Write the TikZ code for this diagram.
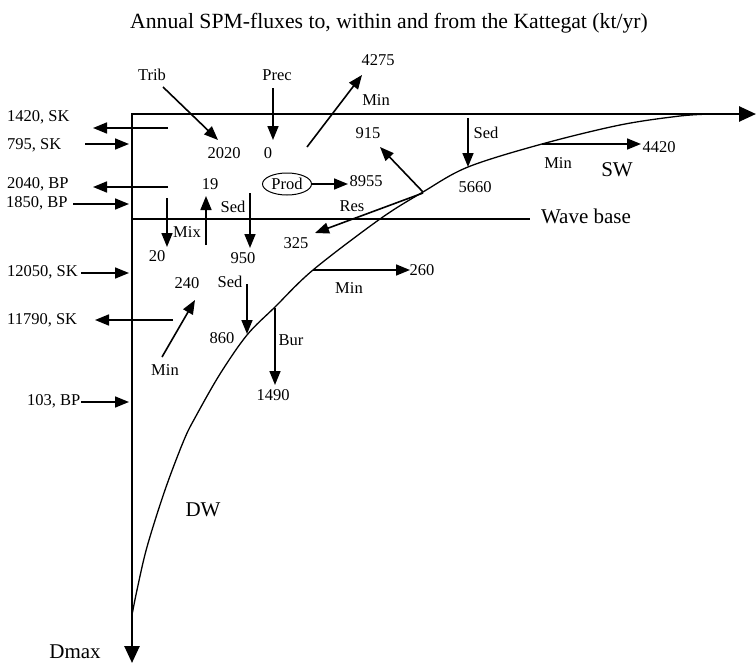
\documentclass[tikz,border=0pt]{standalone}
\usepackage{fontspec}
\setmainfont{Liberation Serif}
\usetikzlibrary{arrows.meta,shapes.geometric}
\tikzset{
  lbl/.style={inner sep=0pt, font=\fontsize{16.5}{18}\selectfont},
  lft/.style={lbl, anchor=west},
  big/.style={inner sep=0pt, font=\fontsize{21}{24}\selectfont},
  ttl/.style={inner sep=0pt, font=\fontsize{21.7}{24}\selectfont},
  flux/.style={line width=1.6pt, -{Triangle[length=14pt,width=11pt]}},
  axisline/.style={line width=2.6pt, {Triangle[length=17pt,width=15pt]}-{Triangle[length=17pt,width=15pt]}},
  thinline/.style={line width=1.3pt},
}
\begin{document}
\begin{tikzpicture}[x=1pt,y=-1pt]
\useasboundingbox (0,0) rectangle (756,664);
% title
\node[ttl, anchor=base] (title) at (389,28) {Annual SPM-fluxes to, within and from the Kattegat (kt/yr)};
% axes
\coordinate (o) at (132,114);
\coordinate (yend) at (132,663);
\coordinate (xend) at (756,114);
\draw[axisline] (yend) -- (o) -- (xend);
% wave base
\coordinate (wb0) at (132,219);
\coordinate (wb1) at (530,219);
\draw[thinline] (wb0) -- (wb1);
\node[big] (wavebase) at (586,216) {Wave base};
% curve
\draw[thinline] plot[smooth, tension=0.55] coordinates {(132,615) (137,590) (147,547) (165,490) (184,440) (196,416) (220,374) (247,335) (275,307) (313,270) (380,219) (423,192) (468,167) (542,144) (620,125) (680,116) (712,114)};
% region labels
\node[big] (sw) at (617,170) {SW};
\node[big] (dw) at (203,510) {DW};
\node[big] (dmax) at (75,652) {Dmax};
% left boundary fluxes
\node[lft] (l1420) at (7,117) {1420, SK};
\node[lft] (l795) at (7,145) {795, SK};
\node[lft] (l2040) at (7,184) {2040, BP};
\node[lft] (l1850) at (6,203) {1850, BP};
\node[lft] (l12050) at (7,272) {12050, SK};
\node[lft] (l11790) at (7,320) {11790, SK};
\node[lft] (l103) at (27,401) {103, BP};
\coordinate (a1420s) at (168,128); \coordinate (a1420e) at (93,128);
\coordinate (a795s) at (85,144); \coordinate (a795e) at (129,144);
\coordinate (a2040s) at (168,187); \coordinate (a2040e) at (93,187);
\coordinate (a1850s) at (73,204); \coordinate (a1850e) at (129,204);
\coordinate (a12050s) at (81,273); \coordinate (a12050e) at (129,273);
\coordinate (a11790s) at (173,320); \coordinate (a11790e) at (95,320);
\coordinate (a103s) at (81,402); \coordinate (a103e) at (129,402);
\draw[flux] (a1420s) -- (a1420e);
\draw[flux] (a795s) -- (a795e);
\draw[flux] (a2040s) -- (a2040e);
\draw[flux] (a1850s) -- (a1850e);
\draw[flux] (a12050s) -- (a12050e);
\draw[flux] (a11790s) -- (a11790e);
\draw[flux] (a103s) -- (a103e);
% surface layer
\node[lbl] (trib) at (152,75) {Trib};
\node[lbl] (n2020) at (224,153) {2020};
\coordinate (tribs) at (163,87); \coordinate (tribe) at (218,140);
\draw[flux] (tribs) -- (tribe);
\node[lbl] (prec) at (277,75) {Prec};
\node[lbl] (n0) at (268,153) {0};
\coordinate (precs) at (273,88); \coordinate (prece) at (273,140);
\draw[flux] (precs) -- (prece);
\node[lbl] (n4275) at (378,60) {4275};
\node[lbl] (minup) at (376,100) {Min};
\coordinate (min1s) at (307,147); \coordinate (min1e) at (362,75);
\draw[flux] (min1s) -- (min1e);
\node[lbl] (n915) at (368,133) {915};
\coordinate (c915s) at (423,192); \coordinate (c915e) at (380,147);
\draw[flux] (c915s) -- (c915e);
\node[lbl] (sed1) at (486,133) {Sed};
\node[lbl] (n5660) at (475,187) {5660};
\coordinate (sed1s) at (468,118); \coordinate (sed1e) at (468,167);
\draw[flux] (sed1s) -- (sed1e);
\node[lbl] (min2) at (558,163) {Min};
\node[lbl] (n4420) at (659,147) {4420};
\coordinate (min2s) at (542,144); \coordinate (min2e) at (641,144);
\draw[flux] (min2s) -- (min2e);
\node[lbl, draw, ellipse, line width=1pt, minimum width=49pt, minimum height=22pt] (prod) at (287,184) {Prod};
\node[lbl] (n8955) at (366,181) {8955};
\coordinate (prode) at (348,184);
\draw[flux] (prod) -- (prode);
\node[lbl] (n19) at (210,184) {19};
\node[lbl] (res) at (352,206) {Res};
\node[lbl] (n325) at (296,243) {325};
\coordinate (ress) at (423,193); \coordinate (rese) at (315,233);
\draw[flux] (ress) -- (rese);
% mixing & settling
\node[lbl] (mix) at (187,232) {Mix};
\node[lbl] (n20) at (157,256) {20};
\coordinate (mixds) at (167,198); \coordinate (mixde) at (167,247);
\coordinate (mixus) at (206,245); \coordinate (mixue) at (206,196);
\draw[flux] (mixds) -- (mixde);
\draw[flux] (mixus) -- (mixue);
\node[lbl] (sed2) at (233,207) {Sed};
\node[lbl] (n950) at (243,258) {950};
\coordinate (sed2s) at (250,193); \coordinate (sed2e) at (250,248);
\draw[flux] (sed2s) -- (sed2e);
% deep water
\node[lbl] (n240) at (187,283) {240};
\node[lbl] (min3) at (165,370) {Min};
\coordinate (min3s) at (162,357); \coordinate (min3e) at (195,300);
\draw[flux] (min3s) -- (min3e);
\node[lbl] (sed3) at (230,282) {Sed};
\node[lbl] (n860) at (222,338) {860};
\coordinate (sed3s) at (247,284); \coordinate (sed3e) at (247,334);
\draw[flux] (sed3s) -- (sed3e);
\node[lbl] (bur) at (291,340) {Bur};
\node[lbl] (n1490) at (273,395) {1490};
\coordinate (burs) at (275,308); \coordinate (bure) at (275,385);
\draw[flux] (burs) -- (bure);
\node[lbl] (min4) at (349,288) {Min};
\node[lbl] (n260) at (422,270) {260};
\coordinate (min4s) at (313,270); \coordinate (min4e) at (410,270);
\draw[flux] (min4s) -- (min4e);
\end{tikzpicture}
\end{document}
